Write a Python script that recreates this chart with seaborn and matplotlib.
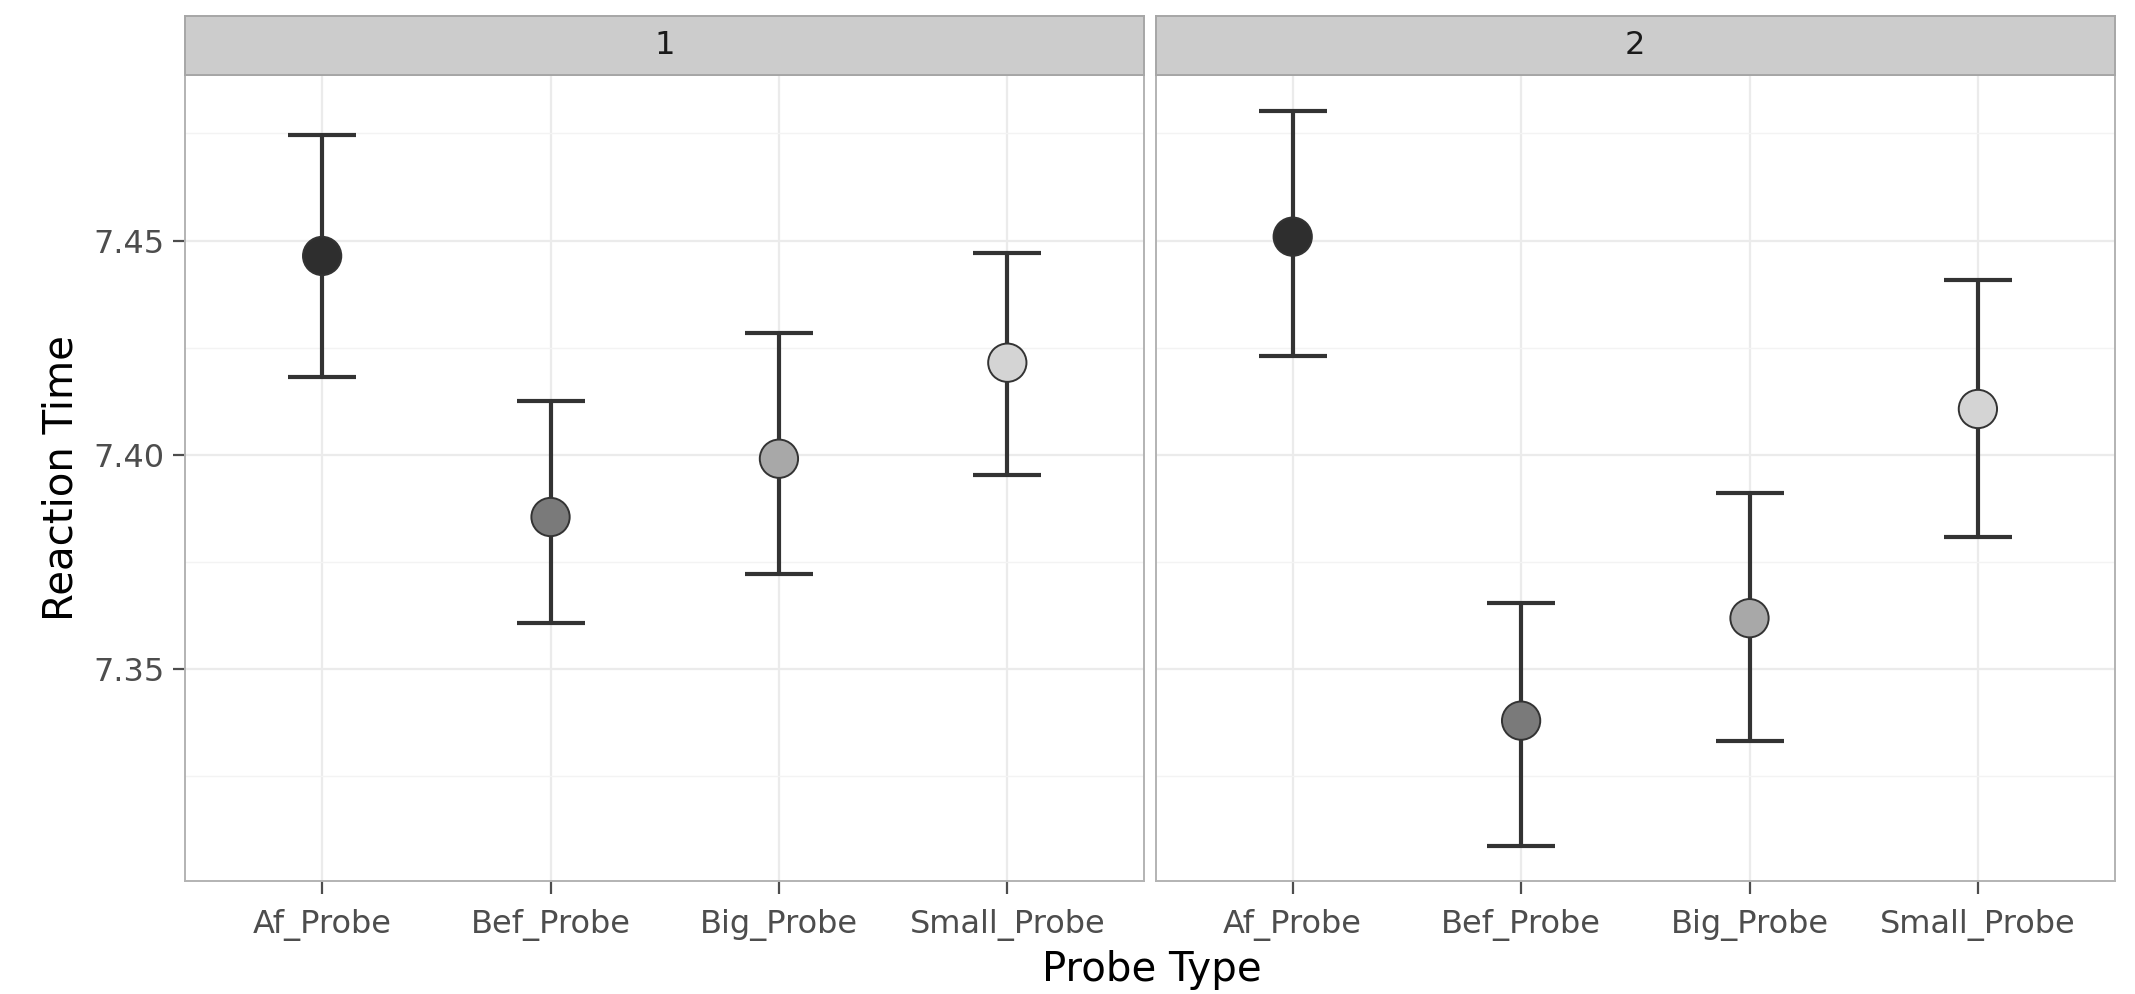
import numpy as np
import pandas as pd
import matplotlib.pyplot as plt
import seaborn as sns

sns.set_theme(style='whitegrid')
plt.rcParams['font.family'] = ['DejaVu Sans']

# data
probes = ['Af_Probe', 'Bef_Probe', 'Big_Probe', 'Small_Probe']
panels = ['1', '2']
mean_1 = [7.4464, 7.3855, 7.3991, 7.4215]
lower_1 = [7.4182, 7.3607, 7.3723, 7.3952]
upper_1 = [7.4745, 7.4126, 7.4285, 7.4472]
mean_2 = [7.4509, 7.3380, 7.3619, 7.4107]
lower_2 = [7.4230, 7.3088, 7.3332, 7.3809]
upper_2 = [7.4803, 7.3654, 7.3912, 7.4407]
fills = ['#2e2e2e', '#7a7a7a', '#a8a8a8', '#d4d4d4']

df = pd.DataFrame({
    'panel': np.repeat(panels, len(probes)),
    'probe': probes * 2,
    'rt': mean_1 + mean_2,
    'lo': lower_1 + lower_2,
    'hi': upper_1 + upper_2,
})

fig, axes = plt.subplots(1, 2, figsize=(21.35, 9.94), dpi=100, sharey=True)
fig.subplots_adjust(left=0.0867, right=0.9906, bottom=0.1137, top=0.9245, wspace=0.0118)

for ax, p in zip(axes, panels):
    sub = df[df['panel'] == p]
    ax.errorbar(sub['probe'], sub['rt'],
                yerr=[sub['rt'] - sub['lo'], sub['hi'] - sub['rt']],
                fmt='none', ecolor='#333333', elinewidth=3.0,
                capsize=24.5, capthick=3.0, zorder=2)
    sns.scatterplot(data=sub, x='probe', y='rt', hue='probe', hue_order=probes,
                    palette=fills, s=760, edgecolor='#333333', linewidth=1.4,
                    legend=False, ax=ax, zorder=3)
    ax.set_xlim(-0.6, 3.6)
    ax.set_ylim(7.3006, 7.4886)
    ax.set_yticks([7.35, 7.40, 7.45])
    ax.set_yticks([7.325, 7.375, 7.425, 7.475], minor=True)
    ax.grid(True, which='major', color='#ebebeb', linewidth=1.6)
    ax.grid(True, which='minor', axis='y', color='#f3f3f3', linewidth=1.0)
    ax.set_facecolor('white')
    for s in ax.spines.values():
        s.set_color('#b3b3b3')
        s.set_linewidth(1.4)
    ax.set_xlabel('')
    ax.set_ylabel('')
    ax.tick_params(axis='x', which='major', bottom=True, length=9, width=1.6,
                   color='#4d4d4d', labelsize=23, labelcolor='#4d4d4d', pad=11)
    ax.tick_params(axis='y', which='major', left=(p == '1'), length=9, width=1.6,
                   color='#4d4d4d', labelsize=23, labelcolor='#4d4d4d', pad=6)
    ax.tick_params(axis='y', which='minor', left=False)
    ax.set_yticklabels(['7.35', '7.40', '7.45'])

    # facet strip
    strip = ax.inset_axes([0, 1.0, 1, 0.0735])
    strip.set_facecolor('#cccccc')
    strip.set_xticks([])
    strip.set_yticks([])
    strip.grid(False)
    for s in strip.spines.values():
        s.set_color('#a6a6a6')
        s.set_linewidth(1.4)
    strip.text(0.5, 0.5, p, ha='center', va='center', fontsize=23, color='#1a1a1a',
               transform=strip.transAxes)

fig.text(0.5395, 0.024, 'Probe Type', ha='center', va='center', fontsize=29, color='black')
fig.text(0.029, 0.519, 'Reaction Time', ha='center', va='center', rotation=90,
         fontsize=29, color='black')

plt.savefig('out.png', dpi=100)
